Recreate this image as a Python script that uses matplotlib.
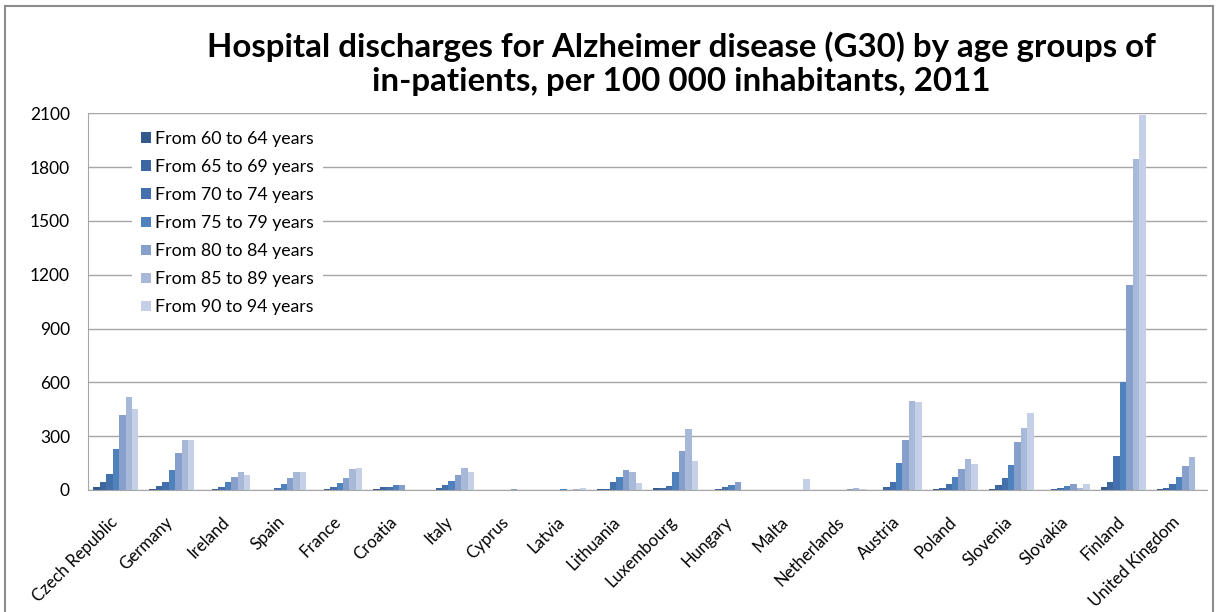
import numpy as np
import matplotlib.pyplot as plt
import matplotlib.transforms as mtrans
from matplotlib.patches import Rectangle

plt.rcParams['font.family'] = ['Lato', 'DejaVu Sans']

countries = ['Czech Republic', 'Germany', 'Ireland', 'Spain', 'France', 'Croatia',
             'Italy', 'Cyprus', 'Latvia', 'Lithuania', 'Luxembourg', 'Hungary',
             'Malta', 'Netherlands', 'Austria', 'Poland', 'Slovenia', 'Slovakia',
             'Finland', 'United Kingdom']

age_groups = ['From 60 to 64 years', 'From 65 to 69 years', 'From 70 to 74 years',
              'From 75 to 79 years', 'From 80 to 84 years', 'From 85 to 89 years',
              'From 90 to 94 years']

# values per country, one list per age group
age_60_64 = [15, 4, 1, 0, 1, 4, 2, 0, 0, 6, 9, 1, 0, 0, 2, 4, 6, 2, 15, 4]
age_65_69 = [43, 21, 6, 1, 4, 15, 9, 0, 0, 6, 11, 4, 0, 0, 15, 13, 28, 6, 43, 13]
age_70_74 = [90, 47, 17, 9, 17, 15, 26, 0, 0, 43, 24, 17, 0, 0, 47, 32, 69, 9, 191, 32]
age_75_79 = [231, 112, 43, 32, 37, 30, 52, 0, 6, 73, 101, 26, 0, 0, 150, 74, 139, 24, 604, 74]
age_80_84 = [420, 204, 75, 69, 69, 30, 84, 6, 0, 112, 216, 43, 0, 4, 279, 117, 268, 32, 1145, 134]
age_85_89 = [517, 276, 101, 101, 118, 0, 124, 0, 6, 101, 339, 0, 0, 9, 495, 171, 347, 13, 1846, 186]
age_90_94 = [454, 281, 84, 101, 124, 0, 101, 0, 11, 37, 163, 0, 64, 4, 489, 143, 427, 32, 2089, 0]

series = [age_60_64, age_65_69, age_70_74, age_75_79, age_80_84, age_85_89, age_90_94]
colors = ['#34598c', '#3b66a0', '#4471ad', '#4f81bd', '#87a0cb', '#a8b8d8', '#c5d0e6']

W, H = 1219, 612
fig = plt.figure(figsize=(W / 100, H / 100), dpi=100)
fig.patch.set_facecolor('white')

ax = fig.add_axes([88 / W, 1 - 490 / H, (1207 - 88) / W, (490 - 113.3) / H])

x = np.arange(len(countries))
bw = 0.115
for i, (vals, col, lab) in enumerate(zip(series, colors, age_groups)):
    ax.bar(x + (i - 3) * bw, vals, width=bw, color=col, label=lab, linewidth=0)

ax.set_xlim(-0.5, len(countries) - 0.5)
ax.set_ylim(0, 2100)
ax.set_yticks(np.arange(0, 2101, 300))
ax.yaxis.grid(True, color='#a6a6a6', linewidth=1.0)
ax.set_axisbelow(True)
for s in ['top', 'right']:
    ax.spines[s].set_visible(False)
ax.spines['left'].set_color('#a6a6a6')
ax.spines['bottom'].set_color('#a6a6a6')
ax.tick_params(axis='y', length=0, pad=13, labelsize=12.5)
ax.tick_params(axis='x', length=0, pad=17)
ax.set_xticks(x)
ax.set_xticklabels(countries, rotation=45, ha='right', rotation_mode='anchor', fontsize=12.1)
shift = mtrans.ScaledTranslation(-7 / 100, 0, fig.dpi_scale_trans)
for lbl in ax.get_xticklabels():
    lbl.set_transform(lbl.get_transform() + shift)

leg = ax.legend(loc='upper left', bbox_to_anchor=(132 / W, 1 - 122 / H),
                bbox_transform=fig.transFigure, fontsize=12.8, frameon=True,
                facecolor='white', edgecolor='none', framealpha=1, fancybox=False,
                handlelength=0.55, handleheight=0.55, handletextpad=0.25,
                labelspacing=0.68, borderaxespad=0, borderpad=0.5)

fig.text(681 / W, 1 - 64 / H, 'Hospital discharges for Alzheimer disease (G30) by age groups of\n'
         'in-patients, per 100 000 inhabitants, 2011', ha='center', va='center',
         fontsize=23.8, fontweight='bold', linespacing=1.2)

# chart area border
fig.patches.append(Rectangle((5 / W, -0.05), (1213 - 5) / W, 1.05 - 6 / H,
                             transform=fig.transFigure, fill=False,
                             edgecolor='#8c8c8c', linewidth=1.5))

fig.savefig('out.png', dpi=100)
